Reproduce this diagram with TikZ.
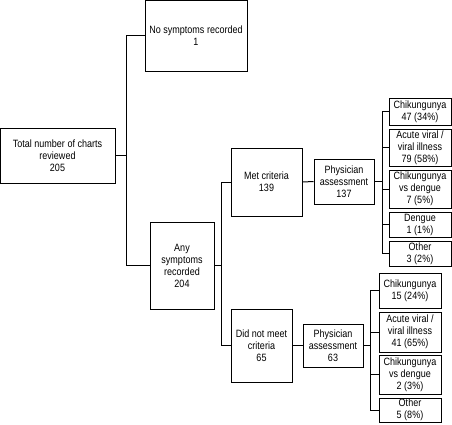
\documentclass[tikz,border=0pt]{standalone}
\usepackage{fontspec}
\setmainfont{Liberation Sans}[FakeStretch=0.85]
\usetikzlibrary{positioning}

\begin{document}
\begin{tikzpicture}[x=1pt,y=-1pt,
    box/.style={draw, line width=1pt, align=center, inner sep=1pt,
      font=\fontsize{10.6}{12}\selectfont},
    link/.style={line width=1pt}]
    \useasboundingbox (0,0) rectangle (452,424);
    % first level
    \node[box, minimum width=115pt, minimum height=55pt] (total) at (57.5,155.5) {Total number of charts\\reviewed\\205};
    \node[box, minimum width=102pt, minimum height=71pt] (nosym) at (196,35.5) {No symptoms recorded\\1};
    \node[box, minimum width=64pt, minimum height=87pt] (anysym) at (182,265.5) {Any\\symptoms\\recorded\\204};
    % criteria
    \node[box, minimum width=71pt, minimum height=68pt] (met) at (266.5,182) {Met criteria\\139};
    \node[box, minimum width=61pt, minimum height=73pt] (notmet) at (261.5,345.5) {Did not meet\\criteria\\65};
    % physician assessment
    \node[box, minimum width=60pt, minimum height=45pt] (physA) at (344,181.5) {Physician\\assessment\\137};
    \node[box, minimum width=60pt, minimum height=43pt] (physB) at (333,345.5) {Physician\\assessment\\63};
    % diagnoses, met criteria
    \node[box, minimum width=62pt, minimum height=27pt] (metChik) at (420,111.5) {Chikungunya\\47 (34\%)};
    \node[box, minimum width=62pt, minimum height=37pt] (metAcute) at (420,147.5) {Acute viral /\\viral illness\\79 (58\%)};
    \node[box, minimum width=62pt, minimum height=38pt] (metVs) at (420,189) {Chikungunya\\vs dengue\\7 (5\%)};
    \node[box, minimum width=62pt, minimum height=25pt] (metDen) at (420,224.5) {Dengue\\1 (1\%)};
    \node[box, minimum width=62pt, minimum height=25pt] (metOth) at (420,253.5) {Other\\3 (2\%)};
    % diagnoses, did not meet criteria
    \node[box, minimum width=62pt, minimum height=35pt] (notChik) at (410,290.5) {Chikungunya\\15 (24\%)};
    \node[box, minimum width=62pt, minimum height=40pt] (notAcute) at (410,332) {Acute viral /\\viral illness\\41 (65\%)};
    \node[box, minimum width=62pt, minimum height=39pt] (notVs) at (410,374.5) {Chikungunya\\vs dengue\\2 (3\%)};
    \node[box, minimum width=62pt, minimum height=24pt] (notOth) at (410,410) {Other\\5 (8\%)};
    % connectors
    \draw[link] (total.east) -- ++(11,0) |- (nosym.west);
    \draw[link] (total.east) -- ++(11,0) |- (anysym.west);
    \draw[link] (anysym.east) -- ++(7,0) |- (met.west);
    \draw[link] (anysym.east) -- ++(7,0) |- (notmet.west);
    \draw[link] (met.east) -- (physA.west);
    \draw[link] (notmet.east) -- (physB.west);
    \foreach \n in {metChik,metAcute,metVs,metDen,metOth}
      \draw[link] (physA.east) -- ++(8,0) |- (\n.west);
    \foreach \n in {notChik,notAcute,notVs,notOth}
      \draw[link] (physB.east) -- ++(7,0) |- (\n.west);
\end{tikzpicture}
\end{document}
